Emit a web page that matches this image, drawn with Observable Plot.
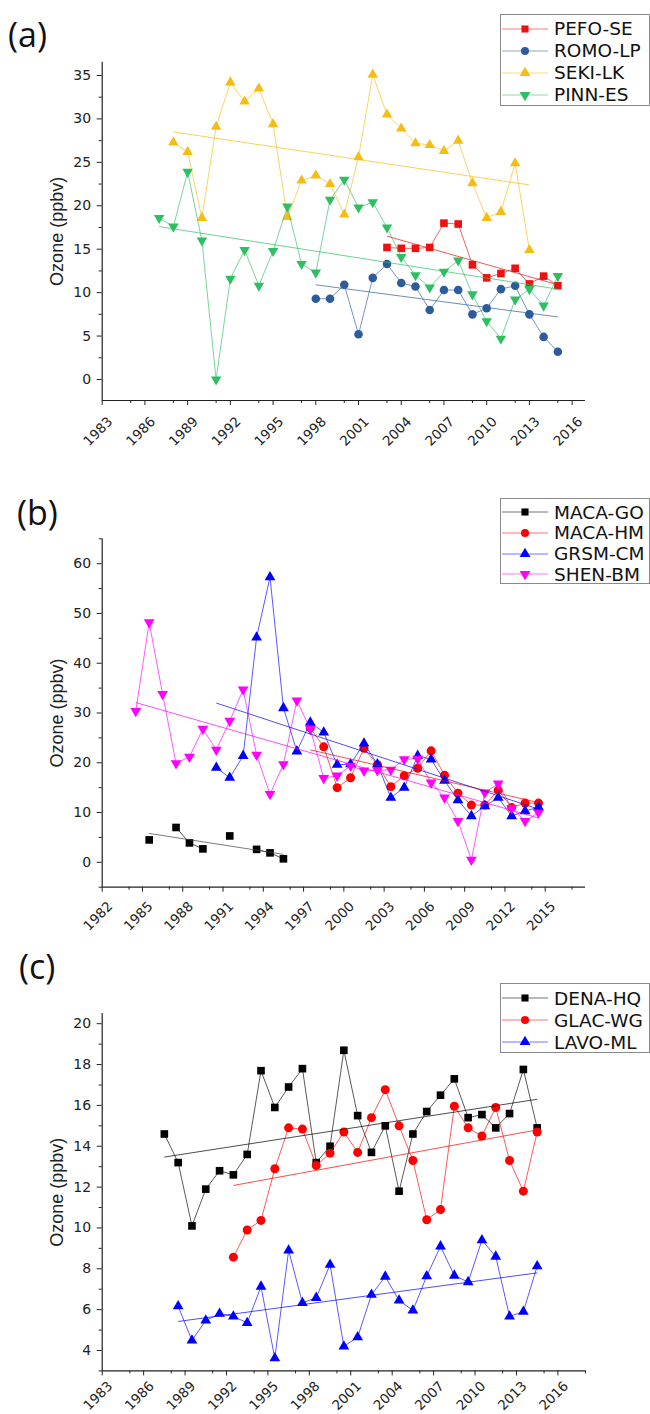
<!DOCTYPE html>
<html><head><meta charset="utf-8">
<script src="https://cdn.jsdelivr.net/npm/d3@7"></script>
<script src="https://cdn.jsdelivr.net/npm/@observablehq/plot@0.6"></script>
<style>
html,body{margin:0;padding:0;background:#fff;}
#root{position:relative;width:650px;height:1414px;overflow:hidden;background:#fff;}
.plabel{position:absolute;font-family:"Open Sans";font-size:34px;line-height:34px;color:#111;}
.legend{position:absolute;left:500px;width:150px;border:1px solid #8a8a8a;background:#fff;box-sizing:border-box;z-index:5;}
.legend .row{position:absolute;left:0;height:22px;display:flex;align-items:center;}
.legend .row span{font-family:"DejaVu Sans";font-size:18.5px;color:#111;margin-left:5px;white-space:nowrap;}
.legend svg{display:block;}
</style></head>
<body><div id="root"></div>
<script>
// ---------- Panel (a) data ----------
const yearsA = [1987,1988,1989,1990,1991,1992,1993,1994,1995,1996,1997,1998,1999,2000,2001,2002,2003,2004,2005,2006,2007,2008,2009,2010,2011,2012,2013,2014,2015];
const pefoSE = [null,null,null,null,null,null,null,null,null,null,null,null,null,null,null,null,15.2,15.1,15.1,15.2,18.0,17.9,13.2,11.7,12.2,12.8,11.0,11.9,10.8];
const romoLP = [null,null,null,null,null,null,null,null,null,null,null,9.3,9.3,10.9,5.2,11.7,13.3,11.1,10.7,8.0,10.3,10.3,7.5,8.2,10.4,10.8,7.5,4.9,3.2];
const sekiLK = [null,27.3,26.2,18.6,29.1,34.2,32.0,33.5,29.4,18.7,22.9,23.5,22.5,19.0,25.6,35.1,30.5,28.9,27.2,27.0,26.3,27.5,22.6,18.6,19.3,24.9,14.9,null,null];
const pinnES = [18.6,17.6,23.9,16.0,0.0,11.6,14.9,10.8,14.8,19.9,13.3,12.3,20.7,23.0,19.8,20.4,17.5,14.1,12.0,10.6,12.4,13.7,9.8,6.7,4.7,9.2,10.4,8.5,11.9];
const trendsA = [
  {name:"PEFO-SE", x1:2003, y1:16.5, x2:2015, y2:10.9},
  {name:"ROMO-LP", x1:1998, y1:10.9, x2:2015, y2:7.2},
  {name:"SEKI-LK", x1:1988, y1:28.5, x2:2013, y2:22.4},
  {name:"PINN-ES", x1:1987, y1:17.6, x2:2015, y2:10.4}
];
const xMajorA = [1983,1986,1989,1992,1995,1998,2001,2004,2007,2010,2013,2016];
const xMinorA = [1985,1988,1991,1994,1997,2000,2003,2006,2009,2012,2015];
const yMajorA = [0,5,10,15,20,25,30,35];
const yMinorA = [2.5,7.5,12.5,17.5,22.5,27.5,32.5];

// ---------- Panel (b) data ----------
const yearsB = [1984.5,1985.5,1986.5,1987.5,1988.5,1989.5,1990.5,1991.5,1992.5,1993.5,1994.5,1995.5,1996.5,1997.5,1998.5,1999.5,2000.5,2001.5,2002.5,2003.5,2004.5,2005.5,2006.5,2007.5,2008.5,2009.5,2010.5,2011.5,2012.5,2013.5,2014.5];
const macaGO = [null,4.5,null,7.0,3.9,2.7,null,5.3,null,2.6,1.9,0.7,null,null,null,null,null,null,null,null,null,null,null,null,null,null,null,null,null,null,null];
const macaHM = [null,null,null,null,null,null,null,null,null,null,null,null,null,27.0,23.2,15.0,17.0,22.9,19.6,15.2,17.4,18.9,22.4,17.5,13.9,11.5,11.5,14.5,11.0,11.9,11.9];
const grsmCM = [null,null,null,null,null,null,19.0,17.0,21.4,45.2,57.3,31.0,22.3,28.1,26.1,19.6,19.7,23.9,19.7,13.0,15.0,21.4,20.7,16.4,12.5,9.3,11.3,13.0,9.3,10.3,11.1];
const shenBM = [30.4,48.2,33.8,19.9,21.2,26.8,22.6,28.4,34.7,21.6,13.7,19.7,32.5,26.8,16.9,17.4,19.4,18.4,18.5,18.6,20.7,20.8,16.0,13.0,8.3,0.5,14.0,15.8,10.9,8.3,10.0];
const trendsB = [
  {name:"MACA-GO", x1:1985.5, y1:5.8, x2:1995.5, y2:1.6},
  {name:"MACA-HM", x1:1997.5, y1:22.6, x2:2014.5, y2:12.0},
  {name:"GRSM-CM", x1:1990.5, y1:32.0, x2:2014.5, y2:10.7},
  {name:"SHEN-BM", x1:1984.5, y1:32.1, x2:2014.5, y2:8.9}
];
const xMajorB = [1982,1985,1988,1991,1994,1997,2000,2003,2006,2009,2012,2015];
const xMinorB = [1984,1987,1990,1993,1996,1999,2002,2005,2008,2011,2014,2017];
const yMajorB = [0,10,20,30,40,50,60];
const yMinorB = [-5,5,15,25,35,45,55,65];

// ---------- Panel (c) data ----------
const yearsC = [1987.5,1988.5,1989.5,1990.5,1991.5,1992.5,1993.5,1994.5,1995.5,1996.5,1997.5,1998.5,1999.5,2000.5,2001.5,2002.5,2003.5,2004.5,2005.5,2006.5,2007.5,2008.5,2009.5,2010.5,2011.5,2012.5,2013.5,2014.5];
const denaHQ = [14.6,13.2,10.1,11.9,12.8,12.6,13.6,17.7,15.9,16.9,17.8,13.2,14.0,18.7,15.5,13.7,15.0,11.8,14.6,15.7,16.5,17.3,15.4,15.55,14.9,15.6,17.76,14.9];
const glacWG = [null,null,null,null,null,8.57,9.9,10.37,12.9,14.9,14.84,13.06,13.66,14.7,13.7,15.4,16.77,15.0,13.3,10.4,10.9,15.96,14.9,14.5,15.9,13.3,11.8,14.7];
const lavoML = [null,6.17,4.49,5.47,5.8,5.67,5.35,7.13,3.62,8.9,6.33,6.58,8.2,4.2,4.65,6.73,7.62,6.45,5.96,7.64,9.1,7.67,7.35,9.4,8.6,5.67,5.9,8.13];
const trendsC = [
  {name:"DENA-HQ", x1:1987.5, y1:13.47, x2:2014.5, y2:16.3},
  {name:"GLAC-WG", x1:1992.5, y1:12.08, x2:2014.5, y2:14.8},
  {name:"LAVO-ML", x1:1988.5, y1:5.42, x2:2014.5, y2:7.8}
];
const xMajorC = [1983,1986,1989,1992,1995,1998,2001,2004,2007,2010,2013,2016];
const xMinorC = [1985,1988,1991,1994,1997,2000,2003,2006,2009,2012,2015,2018];
const yMajorC = [4,6,8,10,12,14,16,18,20];
const yMinorC = [3,5,7,9,11,13,15,17,19];

// ---------- symbols ----------
const triangleDown = {
  draw(context, size) {
    const y = Math.sqrt(size / (Math.sqrt(3) * 3));
    context.moveTo(0, 2 * y);
    context.lineTo(-Math.sqrt(3) * y, -y);
    context.lineTo(Math.sqrt(3) * y, -y);
    context.closePath();
  }
};
const symbolMap = {square: d3.symbolSquare, circle: d3.symbolCircle, triangle: d3.symbolTriangle, triangleDown: triangleDown};

const seriesA = [
  {name:"PEFO-SE", values:pefoSE, color:"#ee1111", symbol:"square", r:4.3},
  {name:"ROMO-LP", values:romoLP, color:"#2d5c9e", symbol:"circle", r:4.3},
  {name:"SEKI-LK", values:sekiLK, color:"#f5bd14", symbol:"triangle", r:3.9},
  {name:"PINN-ES", values:pinnES, color:"#2fbf62", symbol:"triangleDown", r:3.9}
];
const seriesB = [
  {name:"MACA-GO", values:macaGO, color:"#000000", trend:"#444444", symbol:"square", r:4.3},
  {name:"MACA-HM", values:macaHM, color:"#ff0000", symbol:"circle", r:4.5},
  {name:"GRSM-CM", values:grsmCM, color:"#0000ff", symbol:"triangle", r:4.0},
  {name:"SHEN-BM", values:shenBM, color:"#ff00ff", symbol:"triangleDown", r:4.0}
];
const seriesC = [
  {name:"DENA-HQ", values:denaHQ, color:"#000000", symbol:"square", r:4.3},
  {name:"GLAC-WG", values:glacWG, color:"#ff0000", symbol:"circle", r:4.5},
  {name:"LAVO-ML", values:lavoML, color:"#0000ff", symbol:"triangle", r:4.0}
];

function buildPanel(cfg) {
  const marks = [];
  const byName = Object.fromEntries(cfg.series.map(s => [s.name, s]));
  marks.push(Plot.axisY(cfg.yMajor, {anchor:"left", tickSize:5, tickPadding:6, tickFormat:d => String(d), label:null, fontSize:14}));
  marks.push(Plot.axisY(cfg.yMinor, {anchor:"left", tickSize:3, tickFormat:() => "", label:null}));
  marks.push(Plot.axisX(cfg.xMajor, {anchor:"bottom", tickSize:5, tickFormat:() => "", label:null}));
  marks.push(Plot.axisX(cfg.xMinor, {anchor:"bottom", tickSize:3, tickFormat:() => "", label:null}));
  marks.push(Plot.ruleX([cfg.xDomain[0]], {stroke:"#222", strokeWidth:1.2}));
  marks.push(Plot.ruleY([cfg.yDomain[0]], {stroke:"#222", strokeWidth:1.2}));
  marks.push(Plot.text(cfg.xMajor, {x:d => d, frameAnchor:"bottom", dy:cfg.labelDy, dx:-4, rotate:-45, text:d => String(d), fontSize:13.5, textAnchor:"middle", lineAnchor:"middle", fill:"#222"}));
  marks.push(Plot.text(["Ozone (ppbv)"], {frameAnchor:"left", dx:-45, rotate:-90, text:d => d, fontSize:18, fontFamily:"Liberation Sans", textAnchor:"middle", lineAnchor:"middle", fill:"#222"}));
  for (const s of cfg.series) {
    const pts = cfg.years.map((yr, i) => ({x:yr, y:s.values[i]}));
    marks.push(Plot.line(pts, {x:"x", y:"y", stroke:s.color, strokeWidth:1, strokeOpacity:0.65}));
    marks.push(Plot.dot(pts.filter(d => d.y != null), {x:"x", y:"y", symbol:symbolMap[s.symbol], r:s.r, fill:s.color, stroke:"none"}));
  }
  for (const t of cfg.trends) {
    const s = byName[t.name];
    marks.push(Plot.link([t], {x1:"x1", y1:"y1", x2:"x2", y2:"y2", stroke:s.trend || s.color, strokeWidth:1, strokeOpacity:0.7}));
  }
  return Plot.plot({
    width:650, height:cfg.height,
    marginTop:cfg.marginTop, marginBottom:cfg.marginBottom, marginLeft:101.7, marginRight:65,
    x:{domain:cfg.xDomain}, y:{domain:cfg.yDomain},
    style:{fontFamily:"DejaVu Sans", fontSize:"14px", color:"#222", background:"white", overflow:"visible"},
    marks
  });
}

const root = document.getElementById("root");
function place(el, top) {
  el.style.position = "absolute"; el.style.left = "0px"; el.style.top = top + "px";
  root.appendChild(el);
}
function panelLabel(text, left, top) {
  const d = document.createElement("div"); d.className = "plabel"; d.textContent = text;
  d.style.left = left + "px"; d.style.top = top + "px"; root.appendChild(d);
}
function legend(series, top, height, firstRow, step) {
  const box = document.createElement("div"); box.className = "legend";
  box.style.top = top + "px"; box.style.height = height + "px";
  series.forEach((s, i) => {
    const row = document.createElement("div"); row.className = "row";
    row.style.top = (firstRow + i * step - 11) + "px";
    const svg = d3.create("svg").attr("width", 48).attr("height", 22);
    svg.append("line").attr("x1", 1).attr("x2", 47).attr("y1", 11).attr("y2", 11)
      .attr("stroke", s.color).attr("stroke-opacity", 0.55).attr("stroke-width", 1.2);
    svg.append("path").attr("transform", "translate(24,11)")
      .attr("d", d3.symbol(symbolMap[s.symbol], Math.PI * 4 * 4)()).attr("fill", s.color);
    row.appendChild(svg.node());
    const sp = document.createElement("span"); sp.textContent = s.name; row.appendChild(sp);
    box.appendChild(row);
  });
  root.appendChild(box);
}

place(buildPanel({years:yearsA, series:seriesA, trends:trendsA, xDomain:[1983, 2016.94], yDomain:[-2.42, 36.53],
  xMajor:xMajorA, xMinor:xMinorA, yMajor:yMajorA, yMinor:yMinorA, height:470, marginTop:61.7, marginBottom:70, labelDy:31}), 0);
place(buildPanel({years:yearsB, series:seriesB, trends:trendsB, xDomain:[1982, 2018], yDomain:[-5, 65],
  xMajor:xMajorB, xMinor:xMinorB, yMajor:yMajorB, yMinor:yMinorB, height:470, marginTop:58.3, marginBottom:63.3, labelDy:29}), 480);
place(buildPanel({years:yearsC, series:seriesC, trends:trendsC, xDomain:[1983, 2018], yDomain:[3, 20.5],
  xMajor:xMajorC, xMinor:xMinorC, yMajor:yMajorC, yMinor:yMinorC, height:464, marginTop:63, marginBottom:43.6, labelDy:25}), 950);

panelLabel("(a)", 8, 17);
panelLabel("(b)", 17, 495);
panelLabel("(c)", 19, 949);
legend(seriesA, 14, 92, 13.5, 22);
legend(seriesB, 498, 86, 13, 20.8);
legend(seriesC, 983, 70, 14, 22);
</script></body></html>
